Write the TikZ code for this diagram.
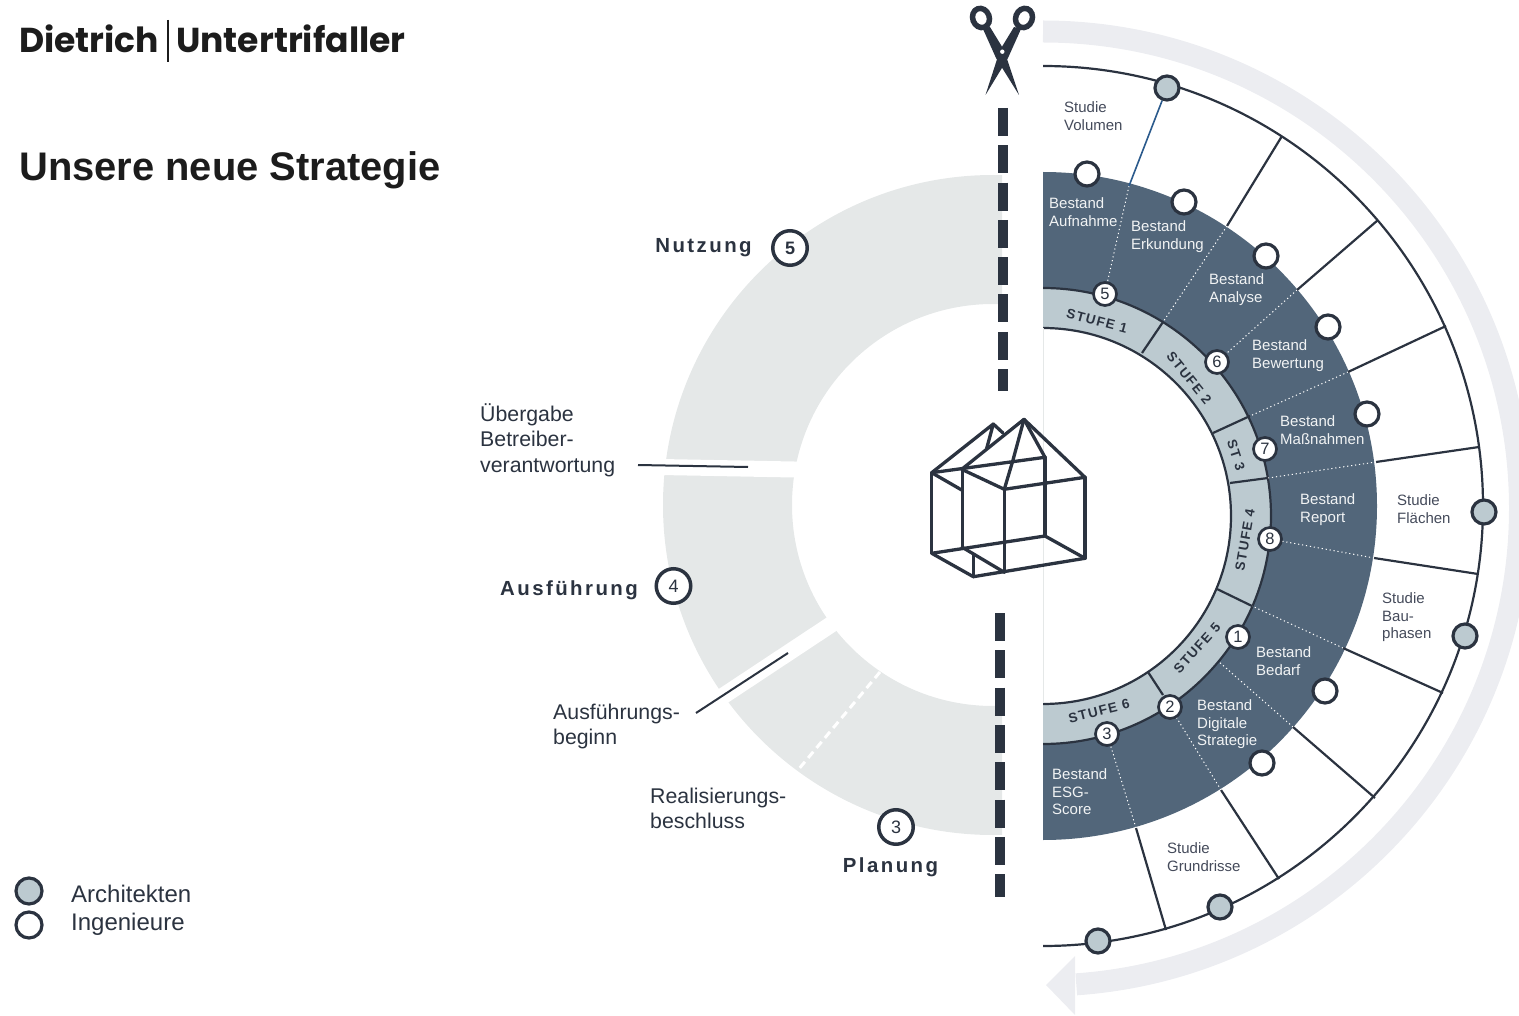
\documentclass[tikz,border=0pt]{standalone}
\usepackage{fontspec}
\setmainfont{Liberation Sans}
\newfontfamily\logofont{Poppins}
\newfontfamily\phasefont[LetterSpace=12]{Liberation Sans}
\newfontfamily\stufefont[LetterSpace=10]{Liberation Sans}
\definecolor{navy}{HTML}{2B3340}
\definecolor{ringdark}{HTML}{52667A}
\definecolor{ringlight}{HTML}{BCCAD0}
\definecolor{phasegrey}{HTML}{E5E8E8}
\definecolor{arrowgrey}{HTML}{ECEDF1}
\definecolor{linkblue}{HTML}{2B5A8C}
\definecolor{labelgrey}{HTML}{444A5A}
\definecolor{inkblack}{HTML}{1C1C1C}
\tikzset{
  spoke/.style={navy,line width=2.2pt},
  dotline/.style={white,line width=1pt,dash pattern=on 1.2pt off 2.8pt},
  dashbar/.style={navy,line width=9.7pt,dash pattern=on 28pt off 9.3pt},
  housebar/.style={navy,line width=3.3pt,line cap=round,line join=round},
  leader/.style={navy,line width=2pt},
  whitedot/.style={circle,draw=navy,line width=3.2pt,fill=white,minimum size=24pt,inner sep=0pt},
  greydot/.style={circle,draw=navy,line width=3.2pt,fill=ringlight,minimum size=24pt,inner sep=0pt},
  numdot/.style={circle,draw=navy,line width=2.7pt,fill=white,minimum size=23pt,inner sep=0pt,text=navy,font=\fontsize{16.5}{16.5}\selectfont},
  phasedot/.style={circle,draw=navy,line width=3.5pt,fill=white,minimum size=34.5pt,inner sep=0pt,text=navy,font=\fontsize{18}{18}\selectfont},
  legenddot/.style={circle,draw=navy,line width=3.2pt,minimum size=26pt,inner sep=0pt},
  studietext/.style={anchor=north west,inner sep=0pt,align=left,text=labelgrey,font=\fontsize{15}{17.7}\selectfont},
  bestandtext/.style={anchor=north west,inner sep=0pt,align=left,text=white!92!ringdark,font=\fontsize{15}{17.7}\selectfont},
  phasetext/.style={inner sep=0pt,text=navy,font=\phasefont\bfseries\fontsize{20.4}{20.4}\selectfont},
  sidetext/.style={anchor=north west,inner sep=0pt,align=left,text=navy,font=\fontsize{21.3}{25.8}\selectfont},
  stufetext/.style={inner sep=0pt,text=navy,font=\stufefont\bfseries\fontsize{13.5}{13.5}\selectfont},
  logotext/.style={anchor=base west,inner sep=0pt,text=inkblack,font=\logofont\bfseries\fontsize{34.6}{34.6}\selectfont},
}
\begin{document}
\begin{tikzpicture}[x=1pt,y=-1pt]
        \useasboundingbox (0,0) rectangle (1519,1016);
        \clip (0,0) rectangle (1519,1016);

        % phases on the left
        \begin{scope}
        \clip (600,100) rectangle (1002,900);
        \fill[phasegrey,even odd rule] (993,505) circle (330) (993,505) circle (201);
        \end{scope}
        \draw[white,line width=16pt] (650,466.8) -- (810,469.8);
        \draw[white,line width=16.5pt] (714,702) -- (845,615.3);
        \draw[white,line width=3pt,dash pattern=on 8pt off 5pt] (880,672) -- (798,770);

        % large arrow
        \draw[arrowgrey,line width=22pt] (1043,31.5) arc (-90:86:477);
        \fill[arrowgrey] (1046,985) -- (1075,956) -- (1075,1015) -- cycle;

        % rings on the right
        \begin{scope}
        \clip (1043,0) rectangle (1519,1016);
        \draw[spoke] (1043,506) circle (440);
        \fill[ringdark] (1043,506) circle (334);
        \filldraw[fill=ringlight,draw=navy,line width=2.2pt] (1043,516) circle (228);
        \filldraw[fill=white,draw=navy,line width=2.2pt] (1043,516) circle (188);
        \end{scope}
        \draw[phasegrey,line width=0.8pt] (1043,328) -- (1043,703);

        \draw[spoke] (1282,136) -- (1227,226);
        \draw[spoke] (1378,220) -- (1297,290);
        \draw[spoke] (1446,326) -- (1348,372);
        \draw[spoke] (1479,447) -- (1376,462);
        \draw[spoke] (1478,574) -- (1374,558);
        \draw[spoke] (1443,693) -- (1343,648);
        \draw[spoke] (1375,798) -- (1293,727);
        \draw[spoke] (1279,879) -- (1221,790);
        \draw[spoke] (1166,930) -- (1136,828);

        \draw[dotline] (1129,186) -- (1105,293);
        \draw[dotline] (1227,226) -- (1163,322);
        \draw[dotline] (1297,290) -- (1217,362);
        \draw[dotline] (1348,372) -- (1250,416);
        \draw[dotline] (1376,462) -- (1268,478);
        \draw[dotline] (1374,558) -- (1270,539);
        \draw[dotline] (1343,648) -- (1252,606);
        \draw[dotline] (1293,727) -- (1218,661);
        \draw[dotline] (1221,790) -- (1170,707);
        \draw[dotline] (1136,828) -- (1107,734);

        \draw[spoke] (1142,353) -- (1163,322);
        \draw[spoke] (1213,433) -- (1250,416);
        \draw[spoke] (1230,483) -- (1268,478);
        \draw[spoke] (1217,589) -- (1252,606);
        \draw[spoke] (1148,672) -- (1163,695);

        \node[stufetext,rotate=-15] (stufe1) at (1097,321) {STUFE 1};
        \node[stufetext,rotate=-51] (stufe2) at (1189,378) {STUFE 2};
        \node[stufetext,rotate=-72] (stufe3) at (1236,455) {ST 3};
        \node[stufetext,rotate=80] (stufe4) at (1245,540) {STUFE 4};
        \node[stufetext,rotate=48] (stufe5) at (1197,648) {STUFE 5};
        \node[stufetext,rotate=14] (stufe6) at (1099,711) {STUFE 6};

        % circles on the rings
        \coordinate (bluefoot) at (1129,186);
        \node[greydot] (volumen) at (1167,88) {};
        \draw[linkblue,line width=1.6pt] (volumen) -- (bluefoot);
        \node[greydot] (flaechen) at (1484,512) {};
        \node[greydot] (bauphasen) at (1465,636) {};
        \node[greydot] (grundrisse) at (1220,907) {};
        \node[greydot] (studie) at (1098,941) {};
        \node[whitedot] (aufnahme) at (1087,174) {};
        \node[whitedot] (erkundung) at (1184,202) {};
        \node[whitedot] (analyse) at (1266,256) {};
        \node[whitedot] (bewertung) at (1328,327) {};
        \node[whitedot] (massnahmen) at (1367,414) {};
        \node[whitedot] (bedarf) at (1325,691) {};
        \node[whitedot] (digitale) at (1262,763) {};

        \node[numdot] (n5) at (1105,294) {5};
        \node[numdot] (n6) at (1217,362) {6};
        \node[numdot] (n7) at (1265,449) {7};
        \node[numdot] (n8) at (1270,539) {8};
        \node[numdot] (n1) at (1238,637) {1};
        \node[numdot] (n2) at (1170,707) {2};
        \node[numdot] (n3) at (1107,734) {3};

        % texts in the segments
        \node[studietext] (tvolumen) at (1064,101.5) {Studie\\Volumen};
        \node[bestandtext] (taufnahme) at (1049,197.5) {Bestand\\Aufnahme};
        \node[bestandtext] (terkundung) at (1131,220.5) {Bestand\\Erkundung};
        \node[bestandtext] (tanalyse) at (1209,273.5) {Bestand\\Analyse};
        \node[bestandtext] (tbewertung) at (1252,339.5) {Bestand\\Bewertung};
        \node[bestandtext] (tmassnahmen) at (1280,415.5) {Bestand\\Maßnahmen};
        \node[bestandtext] (treport) at (1300,493.5) {Bestand\\Report};
        \node[studietext] (tflaechen) at (1397,494.5) {Studie\\Flächen};
        \node[studietext] (tbauphasen) at (1382,592.5) {Studie\\Bau-\\phasen};
        \node[bestandtext] (tbedarf) at (1256,646.5) {Bestand\\Bedarf};
        \node[bestandtext] (tdigitale) at (1197,699.5) {Bestand\\Digitale\\Strategie};
        \node[bestandtext] (tesg) at (1052,768.5) {Bestand\\ESG-\\Score};
        \node[studietext] (tgrundrisse) at (1167,842.5) {Studie\\Grundrisse};

        % the cut
        \draw[dashbar] (1003,108) -- (1003,391);
        \draw[dashbar] (1000,613) -- (1000,897);

        % scissors
        \draw[navy,line width=5.5pt,rotate around={20:(981,18)}] (981,18) ellipse (8.3 and 9.8);
        \draw[navy,line width=5.5pt,rotate around={-20:(1024,18)}] (1024,18) ellipse (8.3 and 9.8);
        \fill[navy] (985.5,95) -- (1000,50) -- (1014,27) -- (1021,29) -- (1008,58) -- cycle;
        \fill[navy] (1019,95) -- (1004,50) -- (990,27) -- (983,29) -- (996,58) -- cycle;
        \fill[white] (1002.3,51.7) circle (2.2);

        % house
        \draw[housebar] (931.7,472.7) -- (993.3,424) -- (986.7,448.3);
        \draw[housebar] (993.3,424) -- (1003,433);
        \draw[housebar] (931.7,472.7) -- (1045,457.3);
        \draw[housebar] (961.7,469.3) -- (1024,419.3) -- (1085,477.3);
        \draw[housebar] (1024,419.3) -- (1045,457.3);
        \draw[housebar] (1024,419.3) -- (1013,460) -- (1004.3,489.3);
        \draw[housebar] (961.7,469.3) -- (1004.3,489.3) -- (1085,477.3);
        \draw[housebar] (931.7,472.7) -- (961.7,490);
        \draw[housebar] (931.7,472.7) -- (931.7,553.3);
        \draw[housebar] (962.3,469.3) -- (962.3,547.3);
        \draw[housebar] (1004.3,489.3) -- (1004.3,572.3);
        \draw[housebar] (1045,457.3) -- (1045,536);
        \draw[housebar] (1085,477.3) -- (1085,558.3);
        \draw[housebar] (931.7,553.3) -- (1045,536) -- (1085,558.3);
        \draw[housebar] (931.7,553.3) -- (973.3,576.7) -- (1085,558.3);
        \draw[housebar] (962.3,547.3) -- (1004.3,572.3);
        \draw[housebar] (973.3,554) -- (973.3,576.7);

        % phase labels
        \node[phasetext] (nutzung) at (703.5,248) {Nutzung};
        \node[phasedot] (p5) at (790,248) {\bfseries 5};
        \node[phasetext] (ausfuehrung) at (569,590) {Ausführung};
        \node[phasedot] (p4) at (673.5,586) {4};
        \node[phasetext] (planung) at (890.5,867) {Planung};
        \node[phasedot] (p3) at (896,827) {3};

        \node[sidetext] (uebergabe) at (480,403) {Übergabe\\Betreiber-\\verantwortung};
        \node[sidetext] (beginn) at (553,703.5) {Ausführungs-\\beginn};
        \node[sidetext] (beschluss) at (650,787.5) {Realisierungs-\\beschluss};
        \coordinate (uebergabeA) at (638,465);
        \coordinate (uebergabeB) at (748,467);
        \draw[leader] (uebergabeA) -- (uebergabeB);
        \coordinate (beginnA) at (696,713);
        \coordinate (beginnB) at (788,653);
        \draw[leader] (beginnA) -- (beginnB);

        % heading
        \node[logotext] (dietrich) at (19,53) {Dietrich};
        \node[logotext] (untertrifaller) at (176,53) {Untertrifaller};
        \coordinate (barA) at (167.5,20);
        \coordinate (barB) at (167.5,62);
        \draw[inkblack,line width=2pt] (barA) -- (barB);
        \node[anchor=base west,inner sep=0pt,text=inkblack,font=\bfseries\fontsize{39.9}{39.9}\selectfont] (strategie) at (19,180.5) {Unsere neue Strategie};

        % legend
        \node[legenddot,fill=ringlight] (legarch) at (29,891) {};
        \node[legenddot,fill=white] (legeng) at (29,925) {};
        \node[sidetext,anchor=west,font=\fontsize{24}{24}\selectfont] (tarch) at (71,894) {Architekten};
        \node[sidetext,anchor=west,font=\fontsize{24}{24}\selectfont] (teng) at (71,924.5) {Ingenieure};

\end{tikzpicture}
\end{document}
